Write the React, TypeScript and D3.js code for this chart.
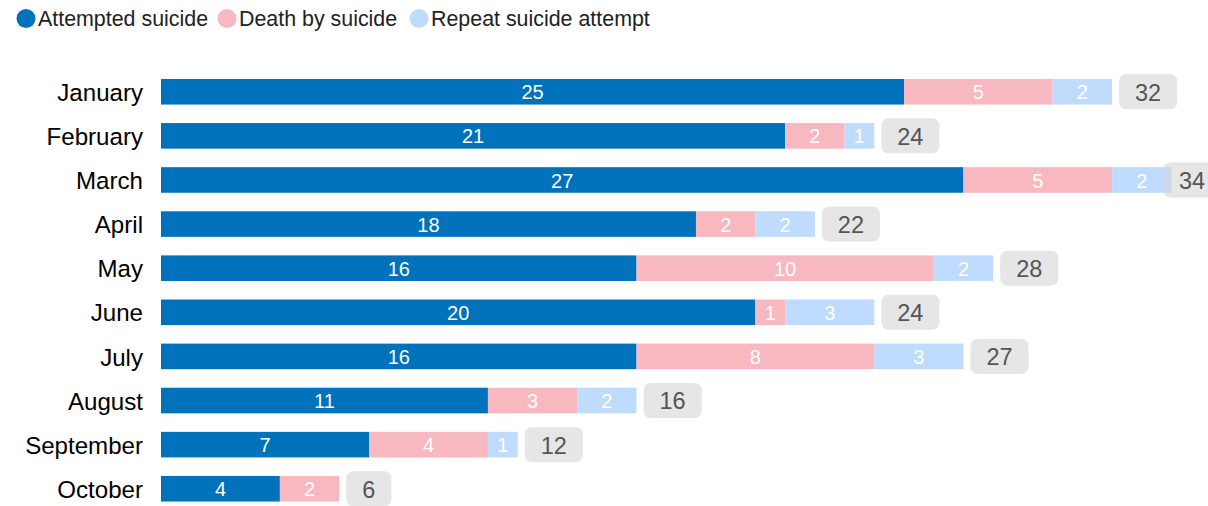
import { useMemo } from "react";
import * as d3 from "d3";

const months = ["January", "February", "March", "April", "May", "June", "July", "August", "September", "October"];
const attempted = [25, 21, 27, 18, 16, 20, 16, 11, 7, 4];
const death = [5, 2, 5, 2, 10, 1, 8, 3, 4, 2];
const repeat = [2, 1, 2, 2, 2, 3, 3, 2, 1, 0];

const seriesNames = ["Attempted suicide", "Death by suicide", "Repeat suicide attempt"];
const seriesColors = ["#0072bc", "#f8b8c0", "#bfdbfd"];

const W = 1208;
const H = 506;
const FONT = "'Liberation Sans', Arial, Helvetica, sans-serif";

export default function App() {
     const rows = months.map((m, i) => ({ month: m, vals: [attempted[i], death[i], repeat[i]] }));

     const x = d3.scaleLinear().domain([0, 34]).range([161, 1171.5]);
     const y = d3.scaleBand<string>()
          .domain(months)
          .range([69.7, 510.8])
          .paddingInner(0.42)
          .paddingOuter(0.21);

     const legendX = [26, 227, 419];

     const measure = useMemo(() => {
          const c = document.createElement("canvas").getContext("2d")!;
          c.font = `23.5px ${FONT}`;
          return (s: string) => c.measureText(s).width;
     }, []);

     return (
          <div style={{ position: "absolute", left: 0, top: 0 }}>
               <svg width={W} height={H} style={{ display: "block", fontFamily: FONT }}>
                    {/* legend */}
                    {seriesNames.map((n, i) => (
                         <g key={n}>
                              <circle cx={legendX[i]} cy={18.5} r={9.5} fill={seriesColors[i]} />
                              <text x={legendX[i] + 12} y={18.5} dy="0.36em" fontSize={21.4} fill="#222">{n}</text>
                         </g>
                    ))}

                    {rows.map((r) => {
                         const y0 = y(r.month)!;
                         const bh = y.bandwidth();
                         const cy = y0 + bh / 2;
                         let acc = 0;
                         const segs = r.vals.map((v, k) => {
                              const s = acc;
                              acc += v;
                              return { k, v, s, e: acc };
                         });
                         const total = acc;
                         const label = String(total);
                         const bw = measure(label) + 32;
                         const bx = Math.min(x(total) + 7, 1163);
                         return (
                              <g key={r.month}>
                                   <text x={143} y={cy} dy="0.38em" textAnchor="end" fontSize={24.1} fill="#000">{r.month}</text>
                                   {segs.filter(d => d.v > 0).map(d => (
                                        <g key={d.k}>
                                             <rect x={x(d.s)} y={y0} width={x(d.e) - x(d.s)} height={bh} fill={seriesColors[d.k]} />
                                             <text x={(x(d.s) + x(d.e)) / 2} y={cy} dy="0.38em" textAnchor="middle" fontSize={20} fill="#fff">{d.v}</text>
                                        </g>
                                   ))}
                                   <rect x={bx} y={cy - 17.5} width={bw} height={35} rx={7} fill="#d6d6d6" fillOpacity={0.6} />
                                   <text x={bx + bw / 2} y={cy} dy="0.38em" textAnchor="middle" fontSize={23.5} fill="#555">{label}</text>
                              </g>
                         );
                    })}
               </svg>
          </div>
     );
}
